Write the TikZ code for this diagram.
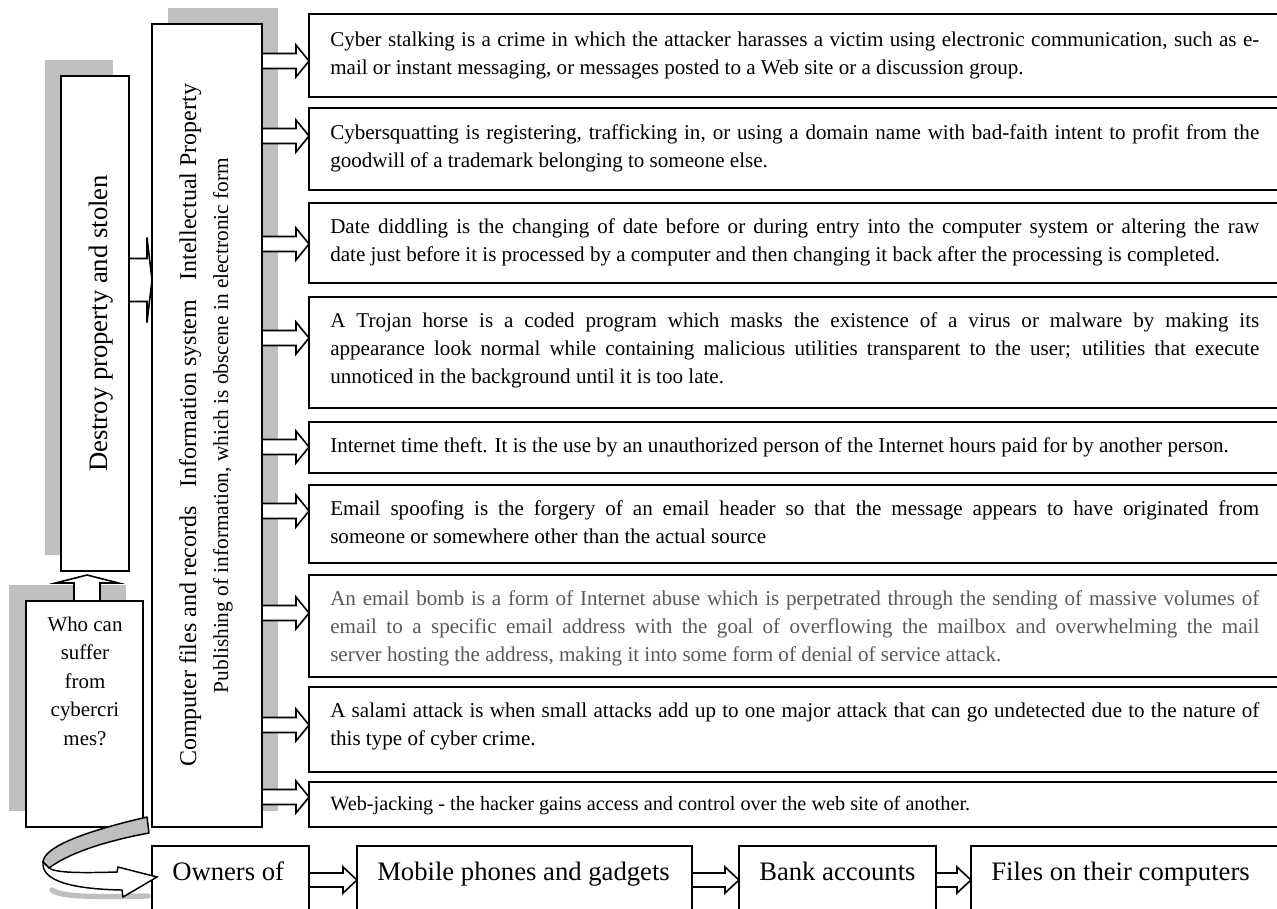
\documentclass[tikz,border=0pt]{standalone}
\usepackage{fontspec}
\setmainfont{Liberation Serif}
\usetikzlibrary{calc}
\pgfdeclarelayer{shade}
\pgfdeclarelayer{links}
\pgfsetlayers{shade,links,main}

% horizontal block arrow: source x from #1, tip at #2; shaft half, head half, head length (px)
\newcommand\harrow[5]{%
  \draw[blk] let \p1=(#1), \p2=(#2) in
    (\x1,{\y2+#3*0.75pt}) -- ({\x2-#5*0.75pt},{\y2+#3*0.75pt})
    -- ({\x2-#5*0.75pt},{\y2+#4*0.75pt}) -- (\x2,\y2)
    -- ({\x2-#5*0.75pt},{\y2-#4*0.75pt}) -- ({\x2-#5*0.75pt},{\y2-#3*0.75pt})
    -- (\x1,{\y2-#3*0.75pt});}
% upward block arrow: source y from #1, tip at #2
\newcommand\varrow[5]{%
  \draw[blk] let \p1=(#1), \p2=(#2) in
    ({\x2-#3*0.75pt},\y1) -- ({\x2-#3*0.75pt},{\y2-#5*0.75pt})
    -- ({\x2-#4*0.75pt},{\y2-#5*0.75pt}) -- (\x2,\y2)
    -- ({\x2+#4*0.75pt},{\y2-#5*0.75pt}) -- ({\x2+#3*0.75pt},{\y2-#5*0.75pt})
    -- ({\x2+#3*0.75pt},\y1);}
\newcommand\desctext[1]{\parbox[t]{696.75pt}{\hyphenpenalty=10000\tolerance=10000 #1}}

\begin{document}
\begin{tikzpicture}[
  x=0.75pt, y=-0.75pt,
  box/.style={draw=black, line width=1.3pt, fill=white, inner sep=0pt, outer sep=0pt, anchor=north west},
  wh/.style 2 args={minimum width=#1*0.75pt, minimum height=#2*0.75pt},
  shade/.style={fill=black!25},
  blk/.style={draw=black, line width=1.2pt, fill=white, line join=miter},
  desc/.style={anchor=base west, inner sep=0pt, font=\fontsize{15.8}{21}\selectfont},
  big/.style={anchor=base west, inner sep=0pt, font=\fontsize{20}{24}\selectfont},
]
\useasboundingbox (0,0) rectangle (1277,908);
\clip (0,0) rectangle (1277,908);

% left columns
\node[box, wh={110}{803}] (mid) at (152,24) {};
\node[box, wh={68}{495}] (dst) at (61,76) {};
\node[box, wh={117}{226}] (who) at (26,601) {};

% description boxes
\node[box, wh={1000}{83}]  (b1) at (309,14) {};
\node[box, wh={1000}{82}]  (b2) at (309,108) {};
\node[box, wh={1000}{80}]  (b3) at (309,203) {};
\node[box, wh={1000}{111}] (b4) at (309,297) {};
\node[box, wh={1000}{51}]  (b5) at (309,422) {};
\node[box, wh={1000}{78}]  (b6) at (309,485) {};
\node[box, wh={1000}{102}] (b7) at (309,575) {};
\node[box, wh={1000}{85}]  (b8) at (309,687) {};
\node[box, wh={1000}{45}]  (b9) at (309,782) {};

% bottom row
\node[box, wh={157}{80}] (own) at (152,846) {};
\node[box, wh={335}{80}] (mob) at (357,846) {};
\node[box, wh={197}{80}] (bank) at (739,846) {};
\node[box, wh={340}{80}] (files) at (971,846) {};

% drop shadows
\begin{pgfonlayer}{shade}
  \fill[shade] ([shift={(16,-16)}]mid.north west) rectangle ([shift={(16,-16)}]mid.south east);
  \fill[shade] ([shift={(-16,-16)}]dst.north west) rectangle ([shift={(-16,-16)}]dst.south east);
  \fill[shade] ([shift={(-17,-16)}]who.north west) rectangle ([shift={(-17,-16)}]who.south east);
\end{pgfonlayer}

% block arrows
\begin{pgfonlayer}{links}
  \harrow{mid.east}{[shift={(0,47)}]b1.north west}{7.5}{16}{13}
  \harrow{mid.east}{[shift={(0,28)}]b2.north west}{7.5}{16}{13}
  \harrow{mid.east}{[shift={(0,41)}]b3.north west}{7.5}{16}{13}
  \harrow{mid.east}{[shift={(0,41)}]b4.north west}{7.5}{16}{13}
  \harrow{mid.east}{[shift={(0,25)}]b5.north west}{7.5}{16}{13}
  \harrow{mid.east}{[shift={(0,26)}]b6.north west}{7.5}{16}{13}
  \harrow{mid.east}{[shift={(0,38)}]b7.north west}{7.5}{16}{13}
  \harrow{mid.east}{[shift={(0,38)}]b8.north west}{7.5}{16}{13}
  \harrow{mid.east}{[shift={(0,15)}]b9.north west}{7.5}{16}{13}
  \harrow{dst.east}{[shift={(0,256)}]mid.north west}{21.5}{42.5}{5}
  \varrow{who.north}{[shift={(-8,4)}]dst.south}{13}{31.5}{8}
  \harrow{own.east}{[shift={(0,34)}]mob.north west}{7}{13}{14}
  \harrow{mob.east}{[shift={(0,34)}]bank.north west}{7}{13}{14}
  \harrow{bank.east}{[shift={(0,34)}]files.north west}{7}{13}{14}
\end{pgfonlayer}

% rotated labels
\node[rotate=90, anchor=base, inner sep=0pt, font=\fontsize{20}{24}\selectfont] (dstlbl)
  at ([shift={(12,0)}]dst.center) {Destroy property and stolen};
\node[rotate=90, anchor=base, inner sep=0pt, font=\fontsize{18}{22}\selectfont] (midlbl)
  at ([shift={(-11,0)}]mid.center) {Computer files and records\hspace{0.8em}Information system\hspace{0.8em}Intellectual Property};
\node[rotate=90, anchor=base, inner sep=0pt, font=\fontsize{16}{19}\selectfont] (midsub)
  at ([shift={(21,0)}]mid.center) {Publishing of information, which is obscene in electronic form};
\node[anchor=base, inner sep=0pt, font=\fontsize{15.7}{21.4}\selectfont] (wholbl)
  at ([shift={(0.5,30)}]who.north) {\parbox[t]{82pt}{\centering Who can\\suffer\\from\\cybercri\\mes?}};

% descriptions
\node[desc] (t1) at ([shift={(21,32)}]b1.north west) {\desctext{Cyber stalking is a crime in which the attacker harasses a victim using electronic communication, such as e-\linebreak mail or instant messaging, or messages posted to a Web site or a discussion group.}};
\node[desc] (t2) at ([shift={(21,31)}]b2.north west) {\desctext{Cybersquatting is registering, trafficking in, or using a domain name with bad-faith intent to profit from the\linebreak goodwill of a trademark belonging to someone else.}};
\node[desc] (t3) at ([shift={(21,30)}]b3.north west) {\desctext{Date diddling is the changing of date before or during entry into the computer system or altering the raw\linebreak date just before it is processed by a computer and then changing it back after the processing is completed.}};
\node[desc] (t4) at ([shift={(21,30)}]b4.north west) {\desctext{A Trojan horse is a coded program which masks the existence of a virus or malware by making its\linebreak appearance look normal while containing malicious utilities transparent to the user; utilities that execute\linebreak unnoticed in the background until it is too late.}};
\node[desc] (t5) at ([shift={(21,30)}]b5.north west) {\desctext{Internet time theft. It is the use by an unauthorized person of the Internet hours paid for by another person.}};
\node[desc] (t6) at ([shift={(21,30)}]b6.north west) {\desctext{Email spoofing is the forgery of an email header so that the message appears to have originated from\linebreak someone or somewhere other than the actual source}};
\node[desc, text=black!65] (t7) at ([shift={(21,30)}]b7.north west) {\desctext{An email bomb is a form of Internet abuse which is perpetrated through the sending of massive volumes of\linebreak email to a specific email address with the goal of overflowing the mailbox and overwhelming the mail\linebreak server hosting the address, making it into some form of denial of service attack.}};
\node[desc] (t8) at ([shift={(21,30)}]b8.north west) {\desctext{A salami attack is when small attacks add up to one major attack that can go undetected due to the nature of\linebreak this type of cyber crime.}};
\node[desc, font=\fontsize{15.2}{20}\selectfont] (t9) at ([shift={(21,28)}]b9.north west) {Web-jacking - the hacker gains access and control over the web site of another.};

% bottom row labels
\node[big] (ownlbl) at ([shift={(20,34)}]own.north west) {Owners of};
\node[big] (moblbl) at ([shift={(20,34)}]mob.north west) {Mobile phones and gadgets};
\node[big] (banklbl) at ([shift={(20,34)}]bank.north west) {Bank accounts};
\node[big] (fileslbl) at ([shift={(20,34)}]files.north west) {Files on their computers};

% curled ribbon arrow from the question box to the bottom row
\draw[line width=4pt, black!25, line cap=round] (52,890) .. controls (62,897) and (90,897) .. (148,896);
\filldraw[fill=black!25, draw=black, line width=1.1pt, line join=round]
  (147,817) .. controls (95,829) and (44,845) .. (43,862) -- (49,868)
  .. controls (66,855) and (100,842) .. (149,833) -- cycle;
\filldraw[fill=white, draw=black, line width=1.1pt, line join=miter]
  (43,862) .. controls (41,881) and (72,889) .. (122,890) -- (123,897) -- (157,877)
  -- (118,867) -- (117,872) .. controls (80,873) and (56,873) .. (49,868) -- cycle;
\end{tikzpicture}
\end{document}
